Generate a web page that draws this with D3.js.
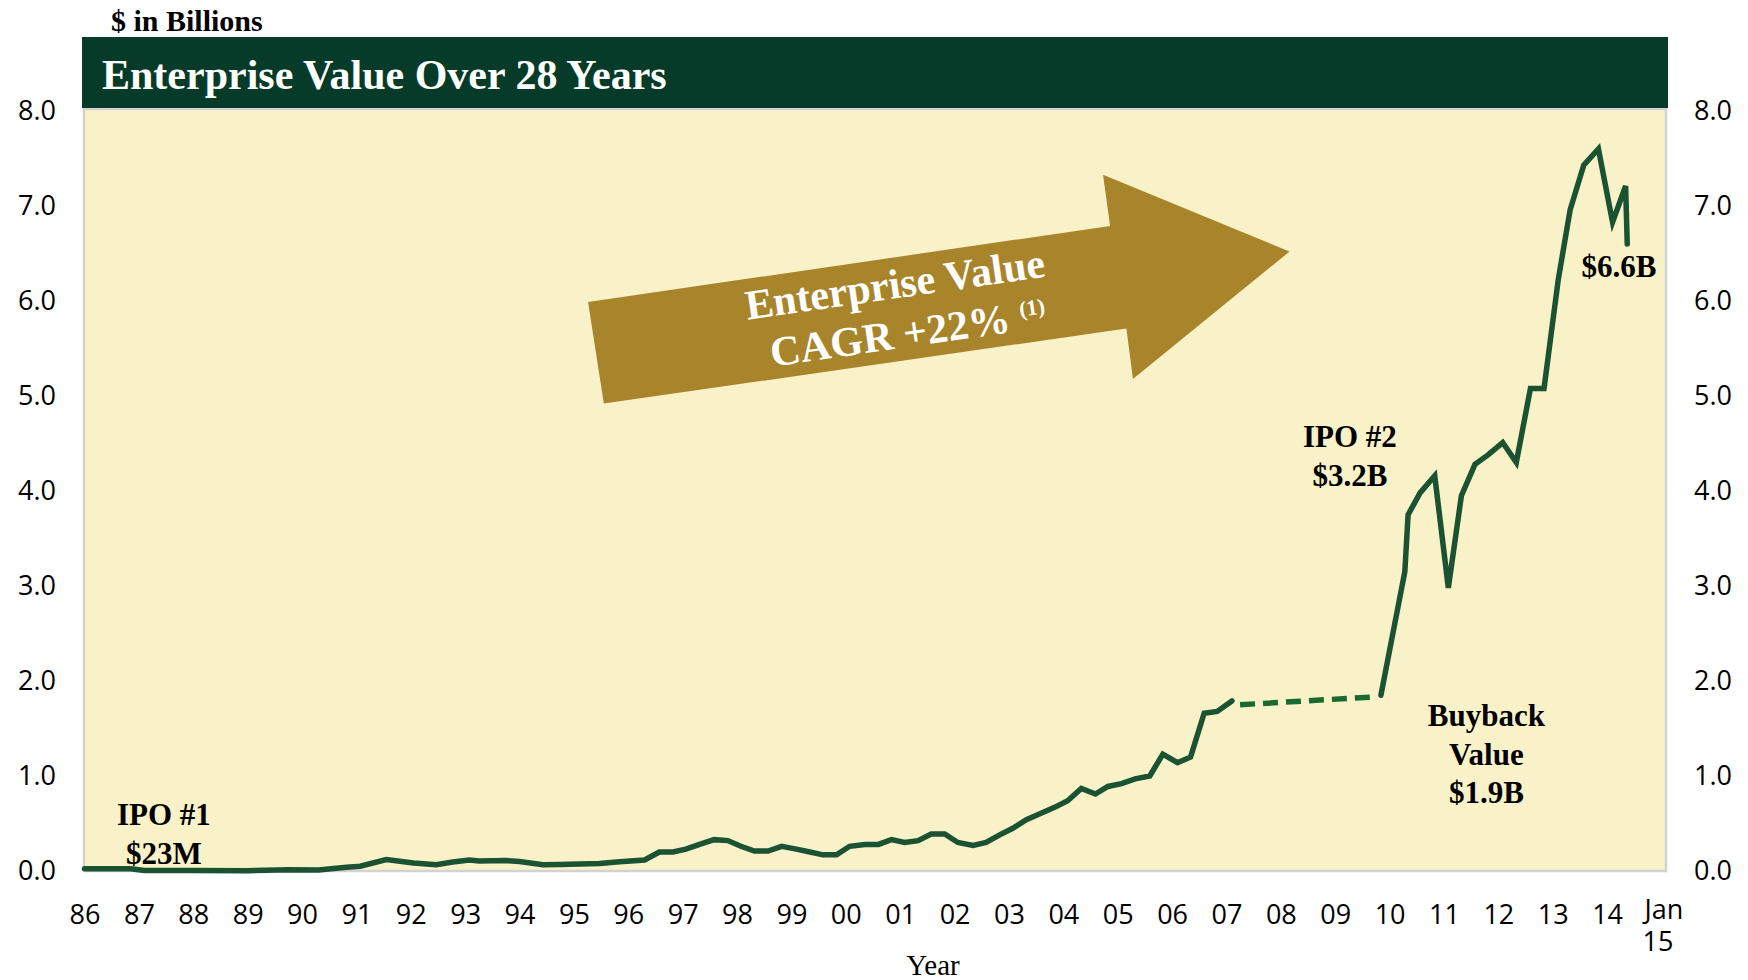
<!DOCTYPE html>
<html>
<head>
<meta charset="utf-8">
<script src="https://cdn.jsdelivr.net/npm/d3@7"></script>
<style>
body{margin:0;background:#fff;}
svg{display:block;}
.serif{font-family:"Liberation Serif","Times New Roman",serif;font-weight:bold;}
.axis text{font-family:"Open Sans",sans-serif;font-size:27px;fill:#000;}
</style>
</head>
<body>
<svg id="chart" width="1748" height="980"></svg>
<script>
// enterprise value, $ billions (decimal years)
var years1 = [1986.0, 1986.85, 1987.1, 1988.0, 1989.0, 1989.75, 1990.3, 1990.82, 1991.07, 1991.55,
  1992.05, 1992.47, 1992.77, 1993.08, 1993.26, 1993.75, 1994.0, 1994.43, 1994.74, 1995.47,
  1995.84, 1996.3, 1996.57, 1996.82, 1997.06, 1997.31, 1997.58, 1997.83, 1998.07, 1998.32,
  1998.57, 1998.82, 1999.09, 1999.34, 1999.58, 1999.83, 2000.07, 2000.35, 2000.6, 2000.84,
  2001.08, 2001.33, 2001.57, 2001.82, 2002.06, 2002.34, 2002.58, 2002.83, 2003.07, 2003.32,
  2003.56, 2003.84, 2004.08, 2004.33, 2004.59, 2004.82, 2005.07, 2005.32, 2005.59, 2005.83,
  2006.1, 2006.34, 2006.59, 2006.83, 2007.1];
var values1 = [0.024, 0.024, 0.005, 0.004, 0.003, 0.012, 0.01, 0.04, 0.05, 0.12,
  0.085, 0.065, 0.095, 0.115, 0.105, 0.11, 0.10, 0.065, 0.068, 0.08,
  0.098, 0.116, 0.20, 0.20, 0.23, 0.28, 0.33, 0.32, 0.26, 0.21,
  0.21, 0.26, 0.23, 0.20, 0.17, 0.17, 0.26, 0.28, 0.28, 0.33,
  0.30, 0.32, 0.39, 0.39, 0.30, 0.27, 0.30, 0.38, 0.45, 0.54,
  0.60, 0.67, 0.74, 0.87, 0.81, 0.89, 0.92, 0.97, 1.0, 1.23,
  1.14, 1.20, 1.66, 1.68, 1.79];

// buyback period (dashed)
var buybackYears = [2007.25, 2009.64];
var buybackValues = [1.75, 1.83];

var years2 = [2009.84, 2010.28, 2010.34, 2010.56, 2010.83, 2011.08, 2011.32, 2011.57, 2011.81, 2012.08,
  2012.33, 2012.59, 2012.84, 2013.1, 2013.32, 2013.57, 2013.84, 2014.1, 2014.34, 2014.37];
var values2 = [1.85, 3.15, 3.75, 3.98, 4.16, 2.98, 3.95, 4.28, 4.38, 4.51,
  4.30, 5.08, 5.08, 6.22, 6.96, 7.43, 7.60, 6.83, 7.21, 6.6];

var yTicks = [0, 1, 2, 3, 4, 5, 6, 7, 8];
var xTicks = d3.range(1986, 2016);

var svg = d3.select("#chart");

var plot = {left:84, right:1666, top:109, bottom:871};

var x = d3.scaleLinear().domain([1986, 2015]).range([84.5, 1661.5]);
var y = d3.scaleLinear().domain([0, 8]).range([871, 111]);

// plot background
svg.append("rect")
  .attr("x", plot.left).attr("y", plot.top)
  .attr("width", plot.right - plot.left)
  .attr("height", plot.bottom - plot.top)
  .attr("fill", "#f9f2c9")
  .attr("stroke", "#d2d2d2")
  .attr("stroke-width", 2.5);

// title bar
svg.append("rect")
  .attr("x", 82).attr("y", 37)
  .attr("width", 1586).attr("height", 71)
  .attr("fill", "#053b28");

svg.append("text")
  .attr("class", "serif")
  .attr("x", 102).attr("y", 89)
  .attr("font-size", 42)
  .attr("fill", "#fff")
  .text("Enterprise Value Over 28 Years");

svg.append("text")
  .attr("class", "serif")
  .attr("x", 111).attr("y", 31)
  .attr("font-size", 30)
  .attr("fill", "#000")
  .text("$ in Billions");

// axes
var fmt = d3.format(".1f");

svg.append("g")
  .attr("class", "axis")
  .attr("transform", "translate(" + plot.left + ",0)")
  .call(d3.axisLeft(y).tickValues(yTicks).tickFormat(fmt).tickSize(0).tickPadding(28))
  .call(function(g){ g.select(".domain").remove(); });

svg.append("g")
  .attr("class", "axis")
  .attr("transform", "translate(" + plot.right + ",0)")
  .call(d3.axisRight(y).tickValues(yTicks).tickFormat(fmt).tickSize(0).tickPadding(28))
  .call(function(g){ g.select(".domain").remove(); });

var xAxis = svg.append("g")
  .attr("class", "axis")
  .attr("transform", "translate(0," + plot.bottom + ")")
  .call(d3.axisBottom(x).tickValues(xTicks)
    .tickFormat(function(d){ return d3.format("02d")(d % 100); })
    .tickSize(0).tickPadding(34))
  .call(function(g){ g.select(".domain").remove(); });

// last tick reads "Jan 15" on two lines
xAxis.selectAll(".tick").filter(function(d){ return d == 2015; })
  .select("text")
  .text("")
  .call(function(t){
    t.append("tspan").attr("x", 2).attr("dy", "0.52em").text("Jan");
    t.append("tspan").attr("x", -4).attr("dy", "1.2em").text("15");
  });

svg.append("text")
  .attr("x", 933).attr("y", 975)
  .attr("text-anchor", "middle")
  .attr("font-family", "'Liberation Serif', 'Times New Roman', serif")
  .attr("font-size", 29)
  .text("Year");

// growth arrow (in data coordinates)
var arrowPts = [[1995.26, 5.99], [2004.86, 6.79], [2004.73, 7.33], [2008.16, 6.52],
  [2005.28, 5.18], [2005.16, 5.71], [1995.55, 4.92]];

svg.append("polygon")
  .attr("points", arrowPts.map(function(p){ return x(p[0]) + "," + y(p[1]); }).join(" "))
  .attr("fill", "#a8852a");

var arrowText = svg.append("g")
  .attr("transform", "translate(" + x(2000.94) + "," + y(6.03) + ") rotate(-8.2)")
  .attr("class", "serif")
  .attr("fill", "#fff")
  .attr("text-anchor", "middle");

arrowText.append("text")
  .attr("font-size", 42)
  .text("Enterprise Value");

var cagr = arrowText.append("text")
  .attr("x", 6).attr("y", 50)
  .attr("font-size", 42);
cagr.append("tspan").text("CAGR +22% ");
cagr.append("tspan").attr("font-size", 22).attr("dy", -14).text("(1)");

// data lines
var line = d3.line()
  .x(function(d){ return x(d[0]); })
  .y(function(d){ return y(d[1]); });

var seg1 = d3.zip(years1, values1);
var segB = d3.zip(buybackYears, buybackValues);
var seg2 = d3.zip(years2, values2);

svg.append("path")
  .datum(seg1)
  .attr("d", line)
  .attr("fill", "none")
  .attr("stroke", "#1a5232")
  .attr("stroke-width", 5.5)
  .attr("stroke-linecap", "round");

svg.append("path")
  .datum(segB)
  .attr("d", line)
  .attr("fill", "none")
  .attr("stroke", "#1a6a2c")
  .attr("stroke-width", 5.5)
  .attr("stroke-dasharray", "15,8");

svg.append("path")
  .datum(seg2)
  .attr("d", line)
  .attr("fill", "none")
  .attr("stroke", "#1a5232")
  .attr("stroke-width", 5.5)
  .attr("stroke-linecap", "round");

// annotations: anchor year, first baseline value, lines
var notes = [
  {year:1987.46, value:0.484, lines:["IPO #1", "$23M"]},
  {year:2009.27, value:4.463, lines:["IPO #2", "$3.2B"]},
  {year:2011.78, value:1.526, lines:["Buyback", "Value", "$1.9B"]},
  {year:2014.22, value:6.253, lines:["$6.6B"]}
];

notes.forEach(function(n){
  var t = svg.append("text")
    .attr("class", "serif")
    .attr("text-anchor", "middle")
    .attr("font-size", 31)
    .attr("fill", "#000")
    .attr("x", x(n.year))
    .attr("y", y(n.value));
  n.lines.forEach(function(s, i){
    t.append("tspan")
      .attr("x", x(n.year))
      .attr("dy", i == 0 ? 0 : 38.5)
      .text(s);
  });
});
</script>
</body>
</html>
